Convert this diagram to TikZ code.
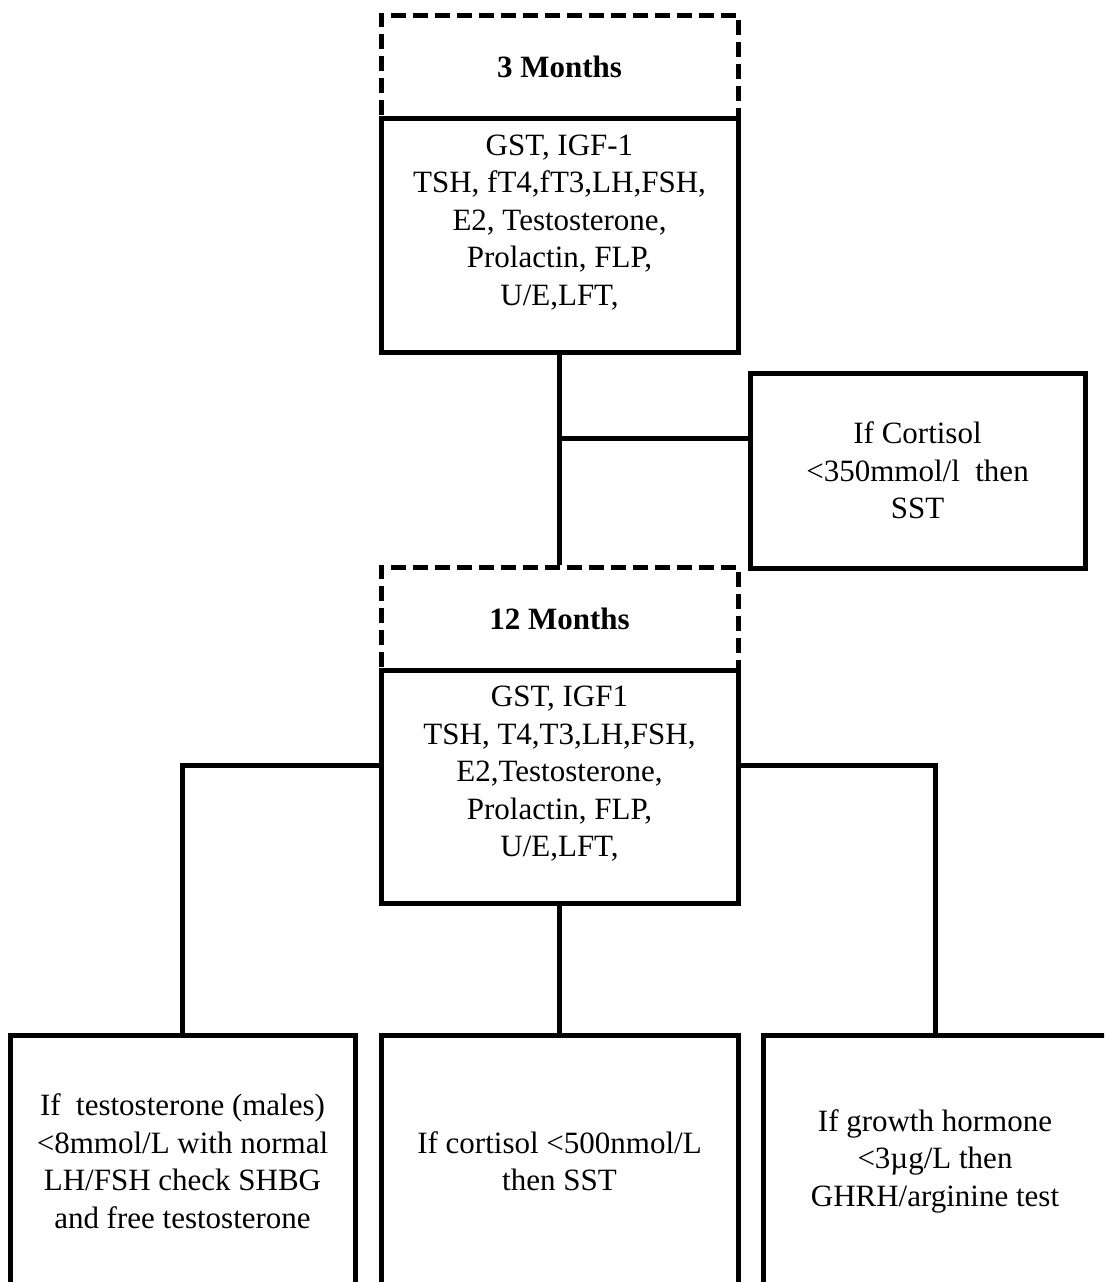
\documentclass[tikz,border=0pt]{standalone}
\usepackage{fontspec}
\setmainfont{Liberation Serif}
\usepackage{tikz}

\begin{document}
\begin{tikzpicture}[x=1pt,y=-1pt,
    box/.style={draw,line width=5pt,fill=white,align=center,inner sep=0pt,
        font=\fontsize{31}{37.5}\selectfont},
    hdr/.style={box,dash pattern=on 15pt off 7pt,
        font=\fontsize{31}{37.5}\selectfont\bfseries},
    link/.style={line width=5pt}]
    \useasboundingbox (0,0) rectangle (1104,1282);
    \clip (0,0) rectangle (1104,1282);

    \node[hdr,minimum width=357pt,minimum height=103pt] (m3) at (559.5,66.5) {3 Months};
    \node[box,minimum width=357pt,minimum height=234pt] (t3) at (559.5,235)
        {GST, IGF-1\\TSH, fT4,fT3,LH,FSH,\\E2, Testosterone,\\Prolactin, FLP,\\U/E,LFT,\\[-7.5pt]\mbox{}};
    \node[box,minimum width=335pt,minimum height=195pt] (cort) at (917.5,470.5)
        {If Cortisol\\<350mmol/l~ then\\SST};
    \node[hdr,minimum width=357pt,minimum height=103pt] (m12) at (559.5,618.5) {12 Months};
    \node[box,minimum width=357pt,minimum height=233pt] (t12) at (559.5,786.5)
        {GST, IGF1\\TSH, T4,T3,LH,FSH,\\E2,Testosterone,\\Prolactin, FLP,\\U/E,LFT,\\[-7.5pt]\mbox{}};

    \node[box,minimum width=345pt,minimum height=252pt] (bl) at (182.5,1161)
        {If~ testosterone (males)\\<8mmol/L with normal\\LH/FSH check SHBG\\and free testosterone};
    \node[box,minimum width=357pt,minimum height=252pt] (bm) at (559.5,1161)
        {If cortisol <500nmol/L\\then SST};
    \node[box,minimum width=344pt,minimum height=252pt] (br) at (935,1161)
        {If growth hormone\\<3µg/L then\\GHRH/arginine test};

    \coordinate (j1) at (559.5,438);
    \draw[link] (t3.south) -- (m12.north);
    \draw[link] (j1) -- (j1 -| cort.west);

    \draw[link] ([yshift=21.5pt]t12.west) -| (bl.north);
    \draw[link] ([yshift=21.5pt]t12.east) -| (br.north);
    \draw[link] (t12.south) -- (bm.north);
\end{tikzpicture}
\end{document}
